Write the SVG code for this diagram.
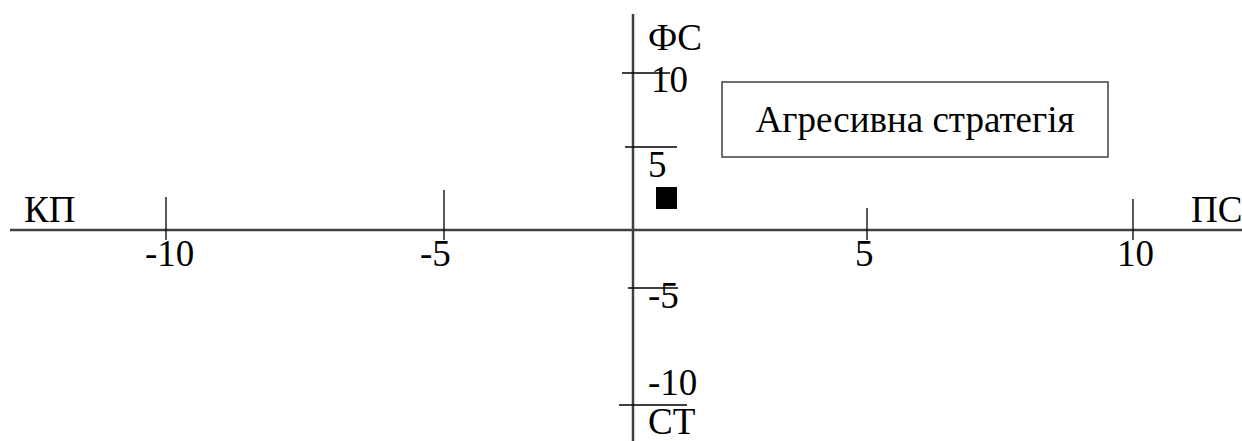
<svg xmlns="http://www.w3.org/2000/svg" width="1242" height="441" viewBox="0 0 1242 441">
<style>
text{font-family:'Liberation Serif','Times New Roman',serif;font-size:37px;fill:#000}
.axis{stroke:#404040;stroke-width:2.5;fill:none}
.tick{stroke:#000;stroke-width:1.3;fill:none}
</style>
<rect width="1242" height="441" fill="#fff"/>
<g id="connectors">
<line class="axis" x1="10" y1="230" x2="1242" y2="230"/>
<line class="axis" x1="633" y1="14" x2="633" y2="441"/>
<line class="tick" x1="166" y1="197" x2="166" y2="240"/>
<line class="tick" x1="444" y1="190" x2="444" y2="240"/>
<line class="tick" x1="867" y1="208" x2="867" y2="240"/>
<line class="tick" x1="1133" y1="199" x2="1133" y2="240"/>
<line class="tick" x1="622" y1="73" x2="670" y2="73"/>
<line class="tick" x1="625" y1="147" x2="677" y2="147"/>
<line class="tick" x1="628" y1="288" x2="678" y2="288"/>
<line class="tick" x1="619" y1="405" x2="687" y2="405"/>
</g>
<g id="labels">
<text x="24" y="222">КП</text>
<text x="1191" y="222">ПС</text>
<text x="648" y="50">ФС</text>
<text x="648" y="434">СТ</text>
<text x="145" y="266">-10</text>
<text x="420" y="266">-5</text>
<text x="855" y="266">5</text>
<text x="1117" y="266">10</text>
<text x="651" y="92">10</text>
<text x="648" y="177">5</text>
<text x="648" y="308">-5</text>
<text x="648" y="395">-10</text>
</g>
<g id="point"><rect x="656" y="187" width="21" height="22" fill="#000"/></g>
<g id="strategy">
<rect x="722" y="82" width="386" height="75" fill="#fff" stroke="#404040" stroke-width="1.5"/>
<text x="915" y="132" text-anchor="middle">Агресивна стратегія</text>
</g>
</svg>
